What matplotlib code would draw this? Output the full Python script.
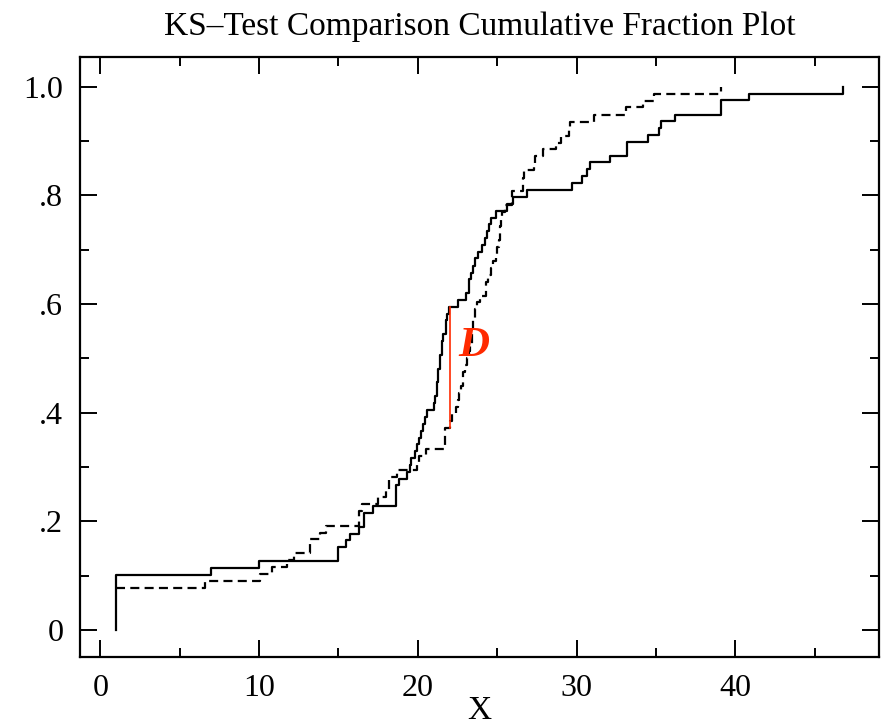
import matplotlib
matplotlib.use("Agg")
import matplotlib.pyplot as plt
from matplotlib.ticker import MultipleLocator, FixedLocator

# ---- data (step corners: x where the level jumps, new level) ----
solid_x = [1, 1, 7, 10, 15, 15.5, 15.7, 16.3, 16.6, 17.15, 18.65, 18.8, 19.3, 19.5, 19.6,
           19.85, 19.95, 20.06, 20.2, 20.35, 20.45, 20.55, 21.05, 21.1, 21.2, 21.3, 21.4,
           21.5, 21.6, 21.75, 21.85, 21.95, 22.5, 23.04, 23.2, 23.35, 23.45, 23.6, 23.8,
           24.05, 24.25, 24.35, 24.5, 24.6, 24.9, 25.6, 26.0, 26.85, 29.7, 30.35, 30.66,
           30.87, 32.1, 33.2, 34.5, 35.2, 35.3, 36.2, 39.07, 40.85, 46.8]
solid_F = [0, 0.101, 0.114, 0.127, 0.152, 0.165, 0.177, 0.19, 0.215, 0.228, 0.266, 0.278,
           0.291, 0.304, 0.316, 0.329, 0.342, 0.354, 0.367, 0.38, 0.392, 0.405, 0.418, 0.43,
           0.456, 0.481, 0.506, 0.532, 0.544, 0.57, 0.582, 0.595, 0.608, 0.62, 0.646, 0.658,
           0.671, 0.684, 0.696, 0.709, 0.722, 0.734, 0.747, 0.759, 0.772, 0.785, 0.797, 0.81,
           0.823, 0.835, 0.848, 0.861, 0.873, 0.899, 0.911, 0.924, 0.937, 0.949, 0.975,
           0.987, 1.0]

dashed_x = [1, 6.6, 10.05, 10.8, 11.75, 12.2, 13.2, 13.85, 14.2, 16.3, 16.5, 17.5, 18.0,
            18.2, 18.7, 19.95, 20.1, 20.5, 21.7, 22.05, 22.15, 22.4, 22.5, 22.6, 22.7,
            22.85, 23.0, 23.1, 23.2, 23.3, 23.4, 23.5, 23.6, 23.7, 23.9, 24.3, 24.45, 24.6,
            24.75, 24.9, 25.0, 25.1, 25.15, 25.2, 25.25, 25.3, 25.5, 25.95, 26.6, 26.7,
            27.3, 27.4, 27.9, 28.7, 29.05, 29.5, 29.6, 31.1, 33.1, 34.2, 34.9, 39.07]
dashed_F = [0.077, 0.090, 0.103, 0.115, 0.128, 0.141, 0.167, 0.179, 0.192, 0.218, 0.231,
            0.244, 0.256, 0.282, 0.295, 0.308, 0.321, 0.333, 0.372, 0.385, 0.397, 0.41,
            0.423, 0.436, 0.449, 0.474, 0.487, 0.5, 0.513, 0.526, 0.551, 0.571, 0.59, 0.603,
            0.615, 0.641, 0.654, 0.667, 0.679, 0.692, 0.705, 0.718, 0.731, 0.744, 0.756,
            0.769, 0.782, 0.808, 0.833, 0.846, 0.859, 0.872, 0.885, 0.897, 0.91, 0.923,
            0.936, 0.949, 0.962, 0.974, 0.987, 1.0]

d_x = 22.0
d_low = 0.372
d_high = 0.595

x_ticks = [0, 10, 20, 30, 40]
x_ticklabels = ["0", "10", "20", "30", "40"]
y_ticks = [0, 0.2, 0.4, 0.6, 0.8, 1.0]
y_ticklabels = ["0", ".2", ".4", ".6", ".8", "1.0"]

title = "KS\u2013Test Comparison Cumulative Fraction Plot"
xlabel = "X"

plt.rcParams["font.family"] = ["Liberation Serif", "DejaVu Serif"]
plt.rcParams["lines.scale_dashes"] = False

fig = plt.figure(figsize=(8.82, 7.28), dpi=100)
ax = fig.add_axes([80 / 882, 1 - 657 / 728, (879 - 80) / 882, (657 - 57) / 728])

ax.plot(solid_x, solid_F, drawstyle="steps-post", color="black", lw=1.6)
ax.plot(dashed_x, dashed_F, drawstyle="steps-post", color="black", lw=1.6,
        dashes=(6.5, 3.8))
ax.plot([d_x, d_x], [d_low, d_high], color="#ff2a00", lw=1.2)
ax.text(23.5, 0.522, "D", color="#ff2a00", fontsize=31, fontstyle="italic",
        fontweight="bold", ha="center", va="center")

ax.set_xlim(-1.28, 49.05)
ax.set_ylim(-0.05, 1.055)

ax.xaxis.set_major_locator(FixedLocator(x_ticks))
ax.set_xticklabels(x_ticklabels)
ax.xaxis.set_minor_locator(MultipleLocator(5))
ax.yaxis.set_major_locator(FixedLocator(y_ticks))
ax.set_yticklabels(y_ticklabels)
ax.yaxis.set_minor_locator(MultipleLocator(0.1))

ax.tick_params(which="both", direction="in", top=True, right=True, width=1.4,
               labelsize=23, pad=12)
ax.tick_params(which="major", length=12)
ax.tick_params(which="minor", length=6.5)
for s in ax.spines.values():
    s.set_linewidth(1.6)

ax.set_title(title, fontsize=24, pad=16)
ax.set_xlabel(xlabel, fontsize=24, labelpad=-5)

fig.savefig("out.png", dpi=100)
